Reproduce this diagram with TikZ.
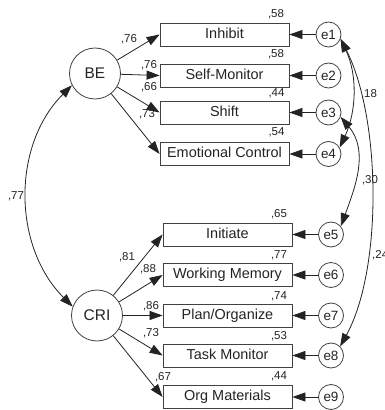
\documentclass[tikz,border=0pt]{standalone}
\usepackage{fontspec}
\setmainfont{Liberation Sans}
\usetikzlibrary{arrows.meta}
\definecolor{ink}{RGB}{35,35,35}
\definecolor{edge}{RGB}{65,65,65}

\begin{document}
\begin{tikzpicture}[x=1bp,y=1bp,
  latent/.style={circle, draw=edge, line width=0.8bp, minimum size=51bp, inner sep=0pt,
    font=\fontsize{15.5}{15.5}\selectfont, text=ink},
  errvar/.style={circle, draw=edge, line width=0.8bp, minimum size=25bp, inner sep=0pt,
    font=\fontsize{13.5}{13.5}\selectfont, text=ink},
  indicator/.style={rectangle, draw=edge, line width=0.8bp, minimum width=129bp,
    minimum height=23bp, inner sep=0pt, text height=10.5bp, text depth=3bp,
    font=\fontsize{14.5}{14.5}\selectfont, text=ink},
  coef/.style={inner sep=0pt, font=\fontsize{11.5}{11.5}\selectfont, text=ink},
  loading/.style={draw=ink, line width=0.8bp, -{Triangle[length=13bp,width=9bp]}},
  cov/.style={draw=ink, line width=0.8bp,
    {Triangle[length=13bp,width=9bp]}-{Triangle[length=13bp,width=9bp]}},
]
\useasboundingbox (0,0) rectangle (385,410);

% latent factors
\node[latent] (BE)  at (95,336.5) {BE};
\node[latent] (CRI) at (97,94.5)  {CRI};

% indicators of BE
\node[indicator] (inh) at (224.5,375.5) {Inhibit};
\node[indicator] (smo) at (224.5,334.5) {Self-Monitor};
\node[indicator] (shi) at (224.5,297.5) {Shift};
\node[indicator] (emo) at (224.5,256)   {Emotional Control};

% indicators of CRI
\node[indicator] (ini) at (227.5,175.5) {Initiate};
\node[indicator] (wme) at (227.5,135)   {Working Memory};
\node[indicator] (pla) at (227.5,94.5)  {Plan/Organize};
\node[indicator] (tmo) at (227.5,54.5)  {Task Monitor};
\node[indicator] (org) at (227.5,13)    {Org Materials};

% error terms
\node[errvar] (e1) at (328.5,375.5) {e1};
\node[errvar] (e2) at (328.5,334.5) {e2};
\node[errvar] (e3) at (328.5,297.5) {e3};
\node[errvar] (e4) at (328.5,256)   {e4};
\node[errvar] (e5) at (331,175.5)   {e5};
\node[errvar] (e6) at (331,135)     {e6};
\node[errvar] (e7) at (331,94.5)    {e7};
\node[errvar] (e8) at (331,54.5)    {e8};
\node[errvar] (e9) at (331,13)      {e9};

% factor loadings
\draw[loading] (BE) -- (inh.west);
\draw[loading] (BE) -- (smo.west);
\draw[loading] (BE) -- (shi.west);
\draw[loading] (BE) -- (emo.west);
\draw[loading] (CRI) -- (ini.west);
\draw[loading] (CRI) -- (wme.west);
\draw[loading] (CRI) -- (pla.west);
\draw[loading] (CRI) -- (tmo.west);
\draw[loading] (CRI) -- (org.west);

% error paths
\draw[loading] (e1) -- (inh);
\draw[loading] (e2) -- (smo);
\draw[loading] (e3) -- (shi);
\draw[loading] (e4) -- (emo);
\draw[loading] (e5) -- (ini);
\draw[loading] (e6) -- (wme);
\draw[loading] (e7) -- (pla);
\draw[loading] (e8) -- (tmo);
\draw[loading] (e9) -- (org);

% covariances
\draw[cov] (BE.207) to[out=225,in=135,distance=85bp] (CRI.160);
\draw[cov] (e1.-20) to[out=-65,in=65,distance=40bp] (e4.30);
\draw[cov] (e3.-20) to[out=-50,in=70,out distance=45bp,in distance=40bp] (e5.40);
\draw[cov] (e1.-20) to[out=-63,in=61,out distance=89bp,in distance=88bp] (e8.45);

% loading estimates
\node[coef] at (129,371)   {,76};
\node[coef] at (149,345)   {,76};
\node[coef] at (149,322.5) {,66};
\node[coef] at (147,296)   {,73};
\node[coef] at (127,153)   {,81};
\node[coef] at (148,140.5) {,88};
\node[coef] at (151,104)   {,86};
\node[coef] at (151,77)    {,73};
\node[coef] at (163,33)    {,67};

% squared multiple correlations
\node[coef] at (276,396)   {,58};
\node[coef] at (276,356)   {,58};
\node[coef] at (276.5,317) {,44};
\node[coef] at (276.5,277.5) {,54};
\node[coef] at (279,196)   {,65};
\node[coef] at (279,155)   {,77};
\node[coef] at (279,114)   {,74};
\node[coef] at (279,74)    {,53};
\node[coef] at (279,34)    {,44};

% correlations
\node[coef] at (16,214)  {,77};
\node[coef] at (369,316) {,18};
\node[coef] at (370,230) {,30};
\node[coef,anchor=west] at (372,155) {,24};
\end{tikzpicture}
\end{document}
